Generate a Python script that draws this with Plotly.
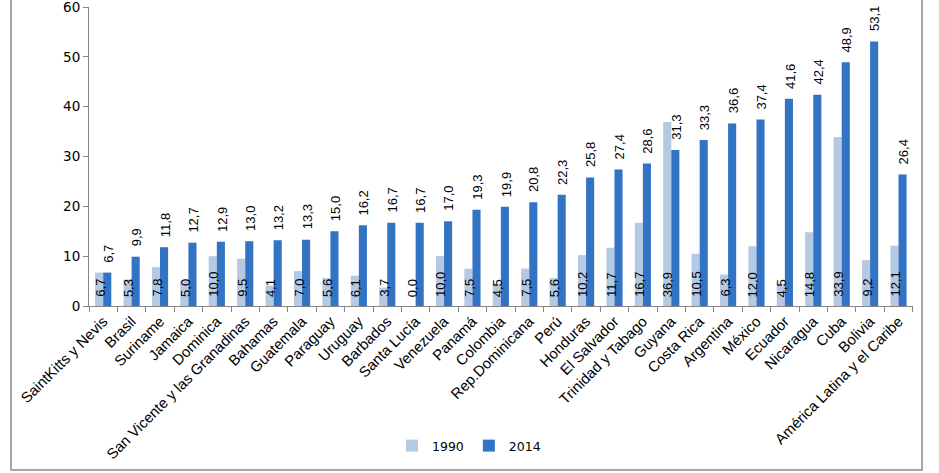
import plotly.graph_objects as go

categories = ["SaintKitts y Nevis", "Brasil", "Suriname", "Jamaica", "Dominica",
              "San Vicente y las Granadinas", "Bahamas", "Guatemala", "Paraguay", "Uruguay",
              "Barbados", "Santa Lucía", "Venezuela", "Panamá", "Colombia",
              "Rep.Dominicana", "Perú", "Honduras", "El Salvador", "Trinidad y Tabago",
              "Guyana", "Costa Rica", "Argentina", "México", "Ecuador",
              "Nicaragua", "Cuba", "Bolivia", "América Latina y el Caribe"]
v1990 = [6.7, 5.3, 7.8, 5.0, 10.0, 9.5, 4.1, 7.0, 5.6, 6.1,
         3.7, 0.0, 10.0, 7.5, 4.5, 7.5, 5.6, 10.2, 11.7, 16.7,
         36.9, 10.5, 6.3, 12.0, 4.5, 14.8, 33.9, 9.2, 12.1]
v2014 = [6.7, 9.9, 11.8, 12.7, 12.9, 13.0, 13.2, 13.3, 15.0, 16.2,
         16.7, 16.7, 17.0, 19.3, 19.9, 20.8, 22.3, 25.8, 27.4, 28.6,
         31.3, 33.3, 36.6, 37.4, 41.6, 42.4, 48.9, 53.1, 26.4]
series_names = ["1990", "2014"]
y_ticks = [0, 10, 20, 30, 40, 50, 60]

C1990 = "#B4C9E3"
C2014 = "#3373C4"

def fmt(v):
    return f"{v:.1f}".replace(".", ",")

fig = go.Figure()
fig.add_trace(go.Bar(x=categories, y=v1990, name=series_names[0],
                     marker=dict(color=C1990, line=dict(width=0))))
fig.add_trace(go.Bar(x=categories, y=v2014, name=series_names[1],
                     marker=dict(color=C2014, line=dict(width=0))))

label_font = dict(family="Liberation Sans, Arial, sans-serif", size=13, color="black")
annotations = []
for c, a, b in zip(categories, v1990, v2014):
    annotations.append(dict(x=c, y=0, xref="x", yref="y", text=fmt(a), showarrow=False,
                            textangle=-90, yanchor="bottom", xanchor="center",
                            xshift=-3.5, yshift=7, font=label_font))
    annotations.append(dict(x=c, y=b, xref="x", yref="y", text=fmt(b), showarrow=False,
                            textangle=-90, yanchor="bottom", xanchor="center",
                            xshift=5, yshift=8, font=label_font))

L, R, T, B = 89, 26, 7, 167
W, H = 939, 473
pw = W - L - R
ph = H - T - B

def px_x(x):
    return (x - L) / pw

def px_y(y):
    return (H - B - y) / ph

fig.update_layout(
    width=W, height=H,
    margin=dict(l=L, r=R, t=T, b=B, pad=0, autoexpand=False),
    paper_bgcolor="white", plot_bgcolor="white",
    barmode="group", bargap=0.43, bargroupgap=0,
    separators=",.",
    showlegend=True,
    legend=dict(orientation="h", x=px_x(469), xanchor="center", y=px_y(446), yanchor="middle",
                font=dict(family="DejaVu Sans, Verdana, sans-serif", size=12.5, color="black"),
                bgcolor="rgba(0,0,0,0)", itemwidth=30, tracegroupgap=0),
    xaxis=dict(showline=True, linecolor="#868686", linewidth=1, ticks="outside",
               tickson="boundaries", ticklen=5, tickcolor="#868686", tickangle=-45,
               tickfont=dict(family="Liberation Sans, Arial, sans-serif", size=14.8, color="black"),
               showgrid=False, zeroline=False, fixedrange=True, automargin=False),
    yaxis=dict(range=[0, 60], tickvals=y_ticks, showline=True, linecolor="#868686", linewidth=1,
               ticks="outside", ticklen=5, tickcolor="#868686", showgrid=False, zeroline=False,
               automargin=False, ticklabeloverflow="allow", fixedrange=True,
               tickfont=dict(family="DejaVu Sans, Verdana, sans-serif", size=13.5, color="black")),
    annotations=annotations,
    shapes=[dict(type="rect", xref="paper", yref="paper",
                 x0=px_x(11), x1=px_x(922), y0=px_y(470), y1=px_y(-10),
                 line=dict(color="#A6A6A6", width=2), layer="below")],
)

fig.write_html("out.html", config={"displayModeBar": False, "staticPlot": True},
               post_script="document.body.style.margin='0px';document.body.style.overflow='hidden';")
